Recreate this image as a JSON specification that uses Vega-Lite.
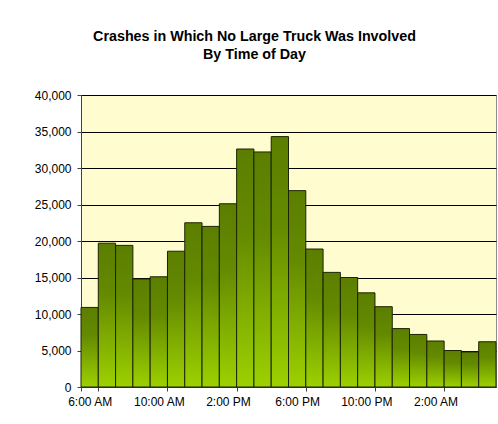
{
  "$schema": "https://vega.github.io/schema/vega-lite/v6.json",
  "autosize": "none",
  "width": 415,
  "height": 292,
  "padding": {"left": 81, "top": 95, "right": 2, "bottom": 37},
  "background": "white",
  "title": {
    "text": ["Crashes in Which No Large Truck Was Involved", "By Time of Day"],
    "font": "Liberation Sans",
    "fontSize": 14.3,
    "fontWeight": "bold",
    "color": "black",
    "lineHeight": 18,
    "offset": 27,
    "dx": -34,
    "anchor": "middle"
  },
  "data": {
    "values": [
      {"time": "6:00 AM", "crashes": 10900},
      {"time": "7:00 AM", "crashes": 19700},
      {"time": "8:00 AM", "crashes": 19400},
      {"time": "9:00 AM", "crashes": 14800},
      {"time": "10:00 AM", "crashes": 15100},
      {"time": "11:00 AM", "crashes": 18600},
      {"time": "12:00 PM", "crashes": 22500},
      {"time": "1:00 PM", "crashes": 22000},
      {"time": "2:00 PM", "crashes": 25100},
      {"time": "3:00 PM", "crashes": 32600},
      {"time": "4:00 PM", "crashes": 32200},
      {"time": "5:00 PM", "crashes": 34300},
      {"time": "6:00 PM", "crashes": 26900},
      {"time": "7:00 PM", "crashes": 18900},
      {"time": "8:00 PM", "crashes": 15700},
      {"time": "9:00 PM", "crashes": 15000},
      {"time": "10:00 PM", "crashes": 12900},
      {"time": "11:00 PM", "crashes": 11000},
      {"time": "12:00 AM", "crashes": 8000},
      {"time": "1:00 AM", "crashes": 7200},
      {"time": "2:00 AM", "crashes": 6300},
      {"time": "3:00 AM", "crashes": 5000},
      {"time": "4:00 AM", "crashes": 4800},
      {"time": "5:00 AM", "crashes": 6200}
    ]
  },
  "mark": {
    "type": "bar",
    "stroke": "#1a2400",
    "strokeWidth": 1,
    "color": {
      "gradient": "linear",
      "x1": 0, "y1": 0, "x2": 0, "y2": 1,
      "stops": [
        {"offset": 0, "color": "#5c7e00"},
        {"offset": 0.35, "color": "#648a00"},
        {"offset": 1, "color": "#9dd100"}
      ]
    }
  },
  "encoding": {
    "x": {
      "field": "time",
      "type": "nominal",
      "sort": null,
      "scale": {"paddingInner": 0, "paddingOuter": 0},
      "axis": {
        "title": null,
        "values": ["6:00 AM", "10:00 AM", "2:00 PM", "6:00 PM", "10:00 PM", "2:00 AM"],
        "labelAngle": 0,
        "tickBand": "extent",
        "tickSize": 4,
        "tickColor": "#404040",
        "domainColor": "#404040",
        "labelFont": "Liberation Sans",
        "labelFontSize": 12,
        "labelColor": "black",
        "labelPadding": 5,
        "grid": false
      }
    },
    "y": {
      "field": "crashes",
      "type": "quantitative",
      "scale": {"domain": [0, 40000]},
      "axis": {
        "title": null,
        "values": [0, 5000, 10000, 15000, 20000, 25000, 30000, 35000, 40000],
        "format": ",.0f",
        "tickSize": 4,
        "tickColor": "#404040",
        "domainColor": "#404040",
        "labelFont": "Liberation Sans",
        "labelFontSize": 12,
        "labelColor": "black",
        "labelPadding": 6,
        "grid": true,
        "gridColor": "black",
        "gridWidth": 1,
        "gridOpacity": 1
      }
    }
  },
  "config": {
    "view": {"fill": "#fffdd0", "stroke": "#8c8c8c", "strokeWidth": 1}
  }
}
